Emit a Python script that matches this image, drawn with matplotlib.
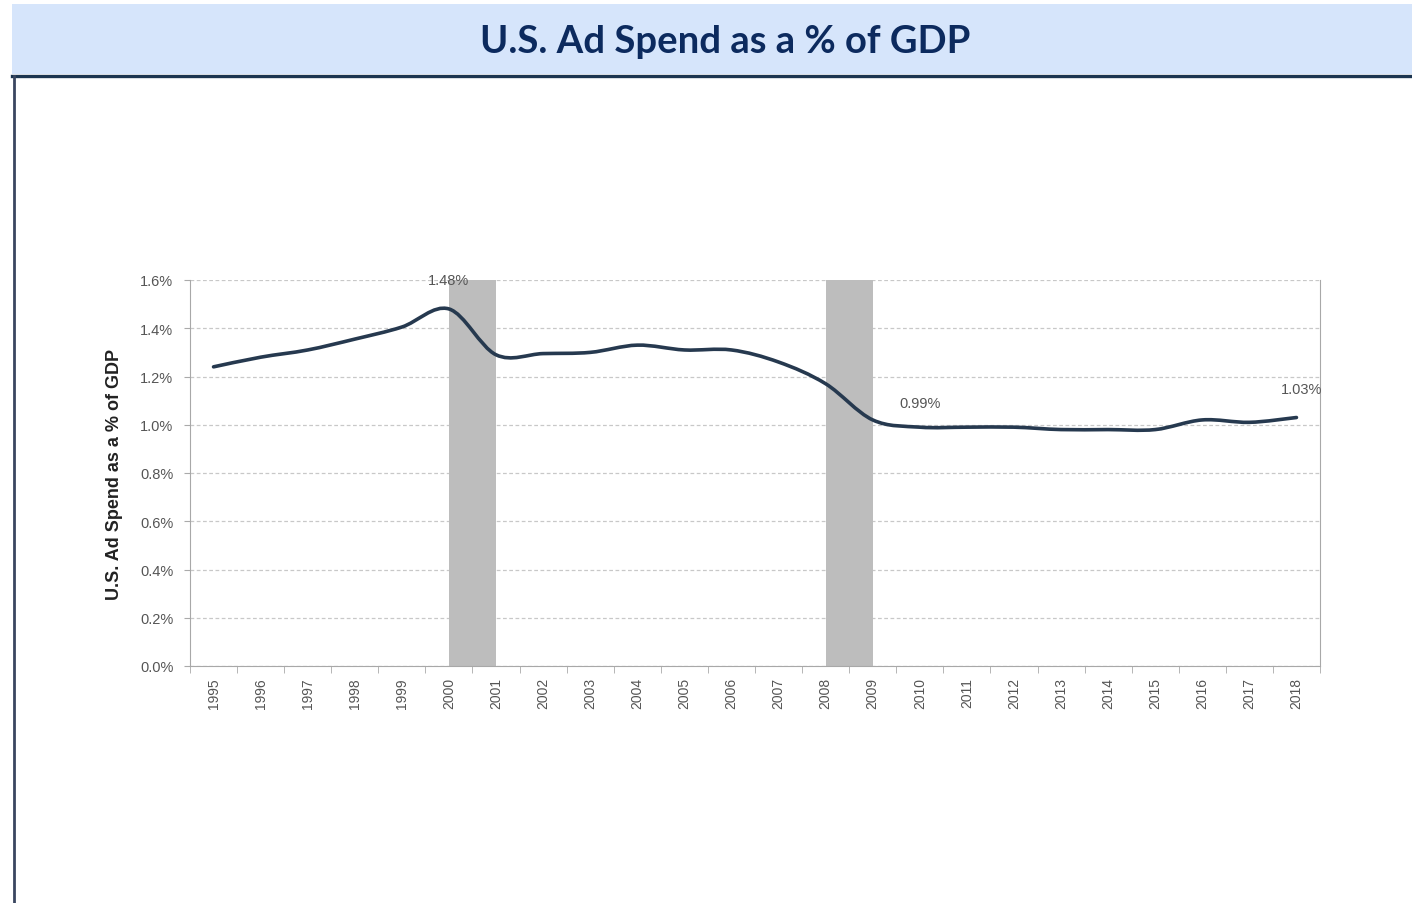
import numpy as np
import matplotlib
matplotlib.use("Agg")
import matplotlib.pyplot as plt
from matplotlib.path import Path
from matplotlib.patches import PathPatch, Rectangle

years = [str(y) for y in range(1995, 2019)]
ad_share = [1.24, 1.28, 1.31, 1.355, 1.405, 1.48, 1.29, 1.295, 1.30, 1.33, 1.31, 1.31,
            1.26, 1.17, 1.02, 0.99, 0.99, 0.99, 0.98, 0.98, 0.98, 1.02, 1.01, 1.03]
recessions = [(2000, 2001), (2008, 2009)]
callouts = [(2000, 1.48, "1.48%"), (2010, 0.99, "0.99%"), (2018, 1.03, "1.03%")]

plt.rcParams['font.family'] = ['Liberation Sans', 'DejaVu Sans']

fig = plt.figure(figsize=(14.12, 9.04), dpi=100)
fig.patch.set_facecolor('white')

# title banner
fig.patches.append(Rectangle((12 / 1412, 1 - 75 / 904), 1, 70 / 904, transform=fig.transFigure,
                             facecolor='#d6e5fb', edgecolor='none', zorder=0))
fig.add_artist(plt.Line2D([12 / 1412, 1], [1 - 76.5 / 904] * 2, color='#1c3550', lw=2.4))
fig.add_artist(plt.Line2D([14 / 1412] * 2, [0, 1 - 77 / 904], color='#3a4660', lw=2))
fig.text(0.5135, 1 - 42 / 904, "U.S. Ad Spend as a % of GDP", ha='center', va='center',
         fontsize=27.5, fontweight='bold', color='#0c2a5e', family=['Lato', 'DejaVu Sans'])

ax = fig.add_axes([190 / 1412, 1 - 667 / 904, 1130 / 1412, 386 / 904])
x = np.arange(len(years))
y = np.array(ad_share)

# recession shading, from one year's point to the next
for a, b in recessions:
    ax.axvspan(years.index(str(a)), years.index(str(b)), color='#bdbdbd', lw=0, zorder=1)

# smoothed line (Catmull-Rom as Bezier segments, like Excel's smooth line)
verts = [(x[0], y[0])]
codes = [Path.MOVETO]
for i in range(len(x) - 1):
    p0 = (x[max(i - 1, 0)], y[max(i - 1, 0)])
    p1 = (x[i], y[i])
    p2 = (x[i + 1], y[i + 1])
    p3 = (x[min(i + 2, len(x) - 1)], y[min(i + 2, len(x) - 1)])
    c1 = (p1[0] + (p2[0] - p0[0]) / 6, p1[1] + (p2[1] - p0[1]) / 6)
    c2 = (p2[0] - (p3[0] - p1[0]) / 6, p2[1] - (p3[1] - p1[1]) / 6)
    verts += [c1, c2, p2]
    codes += [Path.CURVE4] * 3
ax.add_patch(PathPatch(Path(verts, codes), facecolor='none', edgecolor='#26394f', lw=2.6,
                       capstyle='round', zorder=3))

for yr, v, txt in callouts:
    i = years.index(str(yr))
    if yr == 2000:
        ax.text(i, 1.6, txt, ha='center', va='center', fontsize=10.5, color='#555555', zorder=4)
    elif yr == 2010:
        ax.text(i, v + 0.1, txt, ha='center', va='center', fontsize=10.5, color='#555555')
    else:
        ax.text(i + 0.1, v + 0.12, txt, ha='center', va='center', fontsize=10.5, color='#555555')

ax.set_xlim(-0.5, len(years) - 0.5)
ax.set_ylim(0, 1.6)
ax.set_yticks(np.arange(0, 1.61, 0.2))
ax.set_yticklabels([f"{t:.1f}%" for t in np.arange(0, 1.61, 0.2)])
ax.set_xticks(x)
ax.set_xticklabels(years, rotation=90)
ax.set_xticks(np.arange(-0.5, len(years), 1), minor=True)
ax.tick_params(axis='x', which='major', length=0, pad=8, labelsize=10, labelcolor='#555555')
ax.tick_params(axis='x', which='minor', length=5, color='#aaaaaa', direction='out')
ax.tick_params(axis='y', length=4.5, color='#aaaaaa', pad=7.5, labelsize=10.5, labelcolor='#555555')
ax.grid(axis='y', linestyle=(0, (3, 2)), color='#c8c8c8', lw=0.9, zorder=0)
ax.set_axisbelow(True)
for side in ['left', 'bottom', 'right']:
    ax.spines[side].set_color('#a8a8a8')
ax.spines['top'].set_visible(False)
ax.set_ylabel("U.S. Ad Spend as a % of GDP", fontsize=13, fontweight='bold', color='#222222',
              labelpad=12)

fig.savefig('out.png', dpi=100)
